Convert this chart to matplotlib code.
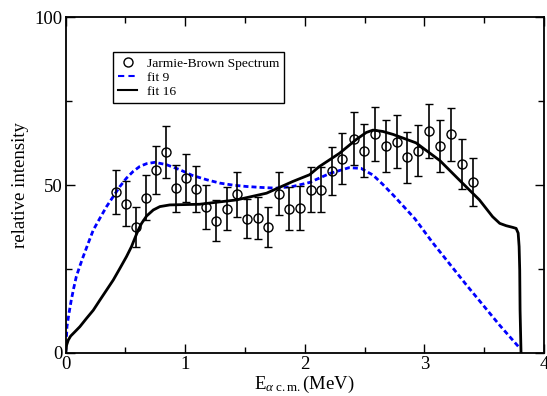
import numpy as np
import matplotlib
matplotlib.use("Agg")
import matplotlib.pyplot as plt
from matplotlib.lines import Line2D

plt.rcParams['font.family'] = ['Liberation Serif', 'DejaVu Serif']
plt.rcParams['mathtext.fontset'] = 'custom'
plt.rcParams['mathtext.rm'] = 'Liberation Serif'
plt.rcParams['mathtext.it'] = 'Liberation Serif:italic'

# Jarmie-Brown spectrum points
e_data = [0.42, 0.506, 0.589, 0.673, 0.754, 0.837, 0.921, 1.004, 1.088, 1.171,
          1.257, 1.346, 1.432, 1.519, 1.605, 1.694, 1.780, 1.866, 1.956, 2.049,
          2.139, 2.227, 2.314, 2.408, 2.498, 2.59, 2.678, 2.768, 2.857, 2.949,
          3.041, 3.133, 3.225, 3.313, 3.403]
i_data = [47.9, 44.4, 37.6, 46.2, 54.6, 59.9, 49.0, 52.2, 48.8, 43.4,
          39.4, 43.0, 47.3, 40.0, 40.3, 37.6, 47.5, 43.0, 43.1, 48.6,
          48.6, 54.2, 57.9, 63.9, 60.3, 65.3, 61.6, 62.9, 58.3, 60.2,
          66.1, 61.6, 65.1, 56.4, 51.0]
i_err = [6.5, 6.7, 6.0, 6.7, 7.2, 7.8, 7.1, 7.2, 6.8, 6.5,
         6.1, 6.5, 6.7, 5.9, 6.3, 6.0, 6.5, 6.5, 6.5, 6.7,
         6.7, 7.2, 7.5, 8.0, 7.9, 8.0, 7.7, 7.9, 7.6, 7.6,
         8.1, 7.7, 7.9, 7.5, 7.2]

# fit 9 (blue dashed)
e_fit9 = [0.0, 0.006, 0.011, 0.028, 0.047, 0.067, 0.089, 0.117, 0.147, 0.189,
          0.231, 0.286, 0.342, 0.398, 0.454, 0.509, 0.565, 0.621, 0.677, 0.746,
          0.843, 0.954, 1.06, 1.18, 1.29, 1.40, 1.51, 1.64, 1.76, 1.90,
          2.04, 2.21, 2.37, 2.47, 2.57, 2.65, 2.74, 2.92, 3.07, 3.35,
          3.63, 3.80]
i_fit9 = [0.0, 3.8, 7.8, 11.8, 15.7, 19.2, 22.7, 25.7, 28.7, 32.7,
          36.6, 40.1, 43.6, 46.6, 49.6, 52.1, 54.1, 55.6, 56.4, 56.8,
          56.1, 54.6, 52.9, 51.6, 50.6, 50.0, 49.6, 49.3, 49.1, 49.6,
          50.8, 53.5, 55.2, 55.0, 53.0, 50.3, 47.0, 40.0, 32.8, 20.3,
          8.2, 1.3]

# fit 16 (black solid)
e_fit16 = [0.0, 0.008, 0.022, 0.042, 0.078, 0.119, 0.175, 0.231, 0.286, 0.342,
           0.398, 0.454, 0.509, 0.551, 0.579, 0.607, 0.635, 0.677, 0.733, 0.788,
           0.871, 1.12, 1.43, 1.68, 1.90, 2.04, 2.12, 2.29, 2.43, 2.514,
           2.57, 2.653, 2.74, 2.93, 3.13, 3.29, 3.46, 3.57, 3.63, 3.684,
           3.739, 3.767, 3.784, 3.792, 3.797, 3.80, 3.808]
i_fit16 = [0.0, 2.3, 3.8, 5.0, 6.3, 7.8, 10.3, 12.7, 15.7, 18.7,
           21.7, 25.2, 28.7, 31.7, 34.2, 36.6, 38.6, 40.8, 42.6, 43.6,
           44.1, 44.3, 45.6, 47.6, 51.1, 53.1, 55.5, 59.5, 63.6, 65.7,
           66.4, 66.0, 65.1, 62.6, 57.3, 51.6, 45.6, 40.6, 38.6, 37.9,
           37.4, 37.1, 35.7, 31.7, 24.7, 12.7, 0.0]

fig = plt.figure(figsize=(5.47, 3.96), dpi=100)
ax = fig.add_axes([0.120, 0.109, 0.8745, 0.847])

ax.errorbar(e_data, i_data, yerr=i_err, fmt='o', mfc='none', mec='black',
            ms=6.5, mew=1.0, ecolor='black', elinewidth=1.2, capsize=3.2,
            capthick=1.2, zorder=3)
ax.plot(e_fit9, i_fit9, color='#0000ff', lw=2.0, ls=(0, (1.8, 1.1)))
ax.plot(e_fit16, i_fit16, color='black', lw=2.0)

ax.set_xlim(0, 4)
ax.set_ylim(0, 100)
ax.set_xticks([0, 1, 2, 3, 4])
ax.set_xticks([0.5, 1.5, 2.5, 3.5], minor=True)
ax.set_yticks([0, 50, 100])
ax.set_yticks([25, 75], minor=True)
ax.tick_params(which='both', direction='in', top=True, right=True,
               labelsize=13.5, width=1.0, pad=2)
ax.tick_params(which='major', length=6.5)
ax.tick_params(which='minor', length=4.3)
for s in ax.spines.values():
    s.set_linewidth(1.3)

ax.set_xlabel(r'E$_{\alpha\ \mathrm{c.m.}}$(MeV)', fontsize=13.5, labelpad=1)
ax.set_ylabel('relative intensity', fontsize=13.5, labelpad=4)

handles = [
    Line2D([], [], ls='none', marker='o', mfc='none', mec='black', ms=6.5, mew=1.0),
    Line2D([], [], color='#0000ff', lw=1.5, ls=(0, (3, 2))),
    Line2D([], [], color='black', lw=1.5),
]
labels = ['Jarmie-Brown Spectrum', 'fit 9', 'fit 16']
leg = ax.legend(handles, labels, loc='upper left', bbox_to_anchor=(0.099, 0.8965),
                borderaxespad=0, fontsize=9.7, fancybox=False,
                edgecolor='black', framealpha=1, labelspacing=0.12,
                handlelength=1.4, handletextpad=0.7, borderpad=0.4)
leg.get_frame().set_linewidth(1.0)

fig.savefig('out.png', dpi=100)
